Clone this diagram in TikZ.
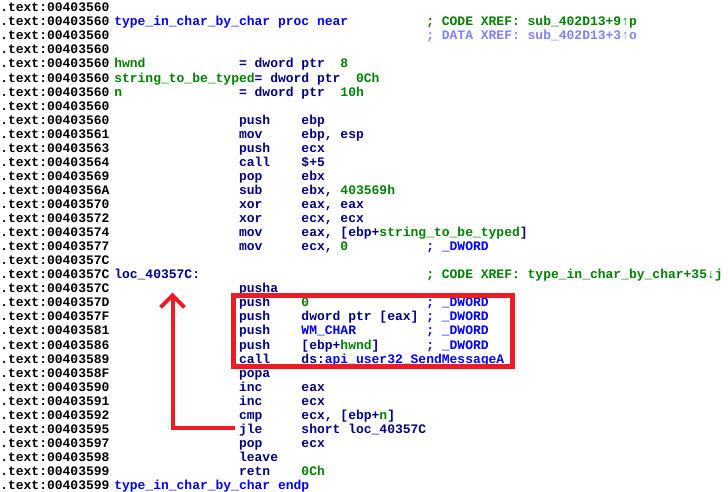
\documentclass[tikz,border=0pt]{standalone}
\usepackage{fontspec}
\setmonofont{Liberation Mono}
\usetikzlibrary{arrows.meta}

\definecolor{idanavy}{RGB}{0,0,128}
\definecolor{idagreen}{RGB}{0,128,0}
\definecolor{idablue}{RGB}{0,0,255}
\definecolor{idaxref}{RGB}{128,128,255}
\definecolor{markred}{RGB}{237,28,36}

% column and row of the listing, in pixels
\newcommand{\cx}[1]{7.8*#1-3}
\newcommand{\ry}[1]{14.05*#1+11.8}

\begin{document}
\begin{tikzpicture}[x=0.75pt, y=-0.75pt]
			\tikzstyle{asm} = [anchor=base west, inner sep=0pt, text=idanavy, font=\ttfamily\bfseries\fontsize{9.75}{12}\selectfont\frenchspacing]
			\tikzstyle{num} = [asm, text=idagreen]
			\tikzstyle{cmt} = [asm, text=idablue]
			\tikzstyle{markbox} = [draw=markred, line width=3.75pt]
			\tikzstyle{jumpline} = [draw=markred, line width=3pt, -{Straight Barb[length=9pt, width=18pt]}]
			
			\useasboundingbox (0,0) rectangle (728,492);
			
			% addresses
			\foreach \a [count=\i from 0] in {00403560,00403560,00403560,00403560,00403560,00403560,00403560,00403560,00403560,00403561,00403563,00403564,00403569,0040356A,00403570,00403572,00403574,00403577,0040357C,0040357C,0040357C,0040357D,0040357F,00403581,00403586,00403589,0040358F,00403590,00403591,00403592,00403595,00403597,00403598,00403599,00403599}
			\node[asm, text=black] (a\i) at (0, \ry{\i}) {.text:\a};
			
			% header
			\node[cmt] 	(proc) 	at (\cx{15}, \ry{1}) 	{type\_in\_char\_by\_char proc near};
			\node[num] 	(xref1) at (\cx{55}, \ry{1}) 	{; CODE XREF: sub\_402D13+9↑p};
			\node[asm, text=idaxref] (xref2) at (\cx{55}, \ry{2}) {; DATA XREF: sub\_402D13+3↑o};
			
			\node[num] 	(hwnd) 	at (\cx{15}, \ry{4}) 	{hwnd};
			\node[asm] 	(hwndt) at (\cx{31}, \ry{4}) 	{= dword ptr};
			\node[num] 	(hwndv) at (\cx{44}, \ry{4}) 	{8};
			\node[num] 	(str) 	at (\cx{15}, \ry{5}) 	{string\_to\_be\_typed};
			\node[asm] 	(strt) 	at (\cx{33}, \ry{5}) 	{= dword ptr};
			\node[num] 	(strv) 	at (\cx{46}, \ry{5}) 	{0Ch};
			\node[num] 	(n) 	at (\cx{15}, \ry{6}) 	{n};
			\node[asm] 	(nt) 	at (\cx{31}, \ry{6}) 	{= dword ptr};
			\node[num] 	(nv) 	at (\cx{44}, \ry{6}) 	{10h};
			
			% instructions
			\foreach \i/\m/\o in {8/push/ebp, 9/mov/{ebp, esp}, 10/push/ecx, 11/call/\$+5, 12/pop/ebx,
				13/sub/{ebx, \textcolor{idagreen}{403569h}}, 14/xor/{eax, eax}, 15/xor/{ecx, ecx},
				16/mov/{eax, [ebp+\textcolor{idagreen}{string\_to\_be\_typed}]}, 17/mov/{ecx, \textcolor{idagreen}{0}},
				20/pusha/{}, 21/push/\textcolor{idagreen}{0}, 22/push/dword ptr [eax],
				23/push/\textcolor{idablue}{WM\_CHAR}, 24/push/{[ebp+\textcolor{idagreen}{hwnd}]},
				25/call/{ds:\textcolor{idablue}{api\_user32\_SendMessageA}}, 26/popa/{}, 27/inc/eax, 28/inc/ecx,
				29/cmp/{ecx, [ebp+\textcolor{idagreen}{n}]}, 30/jle/short loc\_40357C, 31/pop/ecx, 32/leave/{},
				33/retn/\textcolor{idagreen}{0Ch}}
			{
				\node[asm] (m\i) at (\cx{31}, \ry{\i}) {\m};
				\node[asm] (o\i) at (\cx{39}, \ry{\i}) {\o};
			}
			
			% comments
			\foreach \i in {17, 21, 22, 23, 24}
			\node[cmt] (c\i) at (\cx{55}, \ry{\i}) {; \_DWORD};
			
			\node[asm] 	(loc) 	at (\cx{15}, \ry{19}) 	{loc\_40357C:};
			\node[num] 	(xref3) at (\cx{55}, \ry{19}) 	{; CODE XREF: type\_in\_char\_by\_char+35↓j};
			\node[cmt] 	(endp) 	at (\cx{15}, \ry{34}) 	{type\_in\_char\_by\_char endp};
			
			% marks
			\draw[markbox] (233.5, 295) rectangle (512.5, 366);
			\coordinate (jmpfrom) at (235, 428);
			\coordinate (jmpto) at (172.5, 292.5);
			\draw[jumpline] (jmpfrom) -| (jmpto);
\end{tikzpicture}
\end{document}
